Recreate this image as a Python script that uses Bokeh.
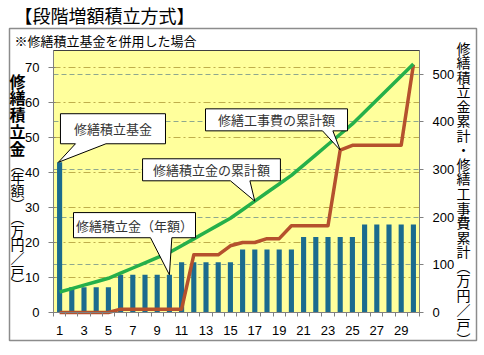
from bokeh.plotting import figure
from bokeh.models import Range1d, LinearAxis, FixedTicker, Grid
from bokeh.embed import file_html
from bokeh.resources import INLINE
from bokeh.core.properties import value

# ---------------- data ----------------
years = list(range(1, 31))
x_tick_values = list(range(1, 30, 2))
annual_reserve = [43.0, 7.2, 7.2, 7.2, 7.2,
                  10.8, 10.8, 10.8, 10.8, 10.8,
                  14.4, 14.4, 14.4, 14.4, 14.4,
                  18.0, 18.0, 18.0, 18.0, 18.0,
                  21.6, 21.6, 21.6, 21.6, 21.6,
                  25.2, 25.2, 25.2, 25.2, 25.2]
cum_reserve = [43.0, 50.2, 57.4, 64.6, 71.8, 82.6, 93.4, 104.2, 115.0, 125.8,
               140.2, 154.6, 169.0, 183.4, 197.8, 215.8, 233.8, 251.8, 269.8, 287.8,
               309.4, 331.0, 352.6, 374.2, 395.8, 421.0, 446.2, 471.4, 496.6, 521.8]
cum_repair = [0, 0, 0, 0, 0, 7, 7, 7, 7, 7,
              7, 121, 121, 121, 140, 147, 147, 155, 155, 182,
              182, 182, 182, 341, 351, 351, 351, 351, 351, 520]
left_ticks = [0, 10, 20, 30, 40, 50, 60, 70]
right_ticks = [0, 100, 200, 300, 400, 500]

title_text = "【段階増額積立方式】"
subtitle_text = "※修繕積立基金を併用した場合"
left_title_a = "修繕積立金"
left_title_b = "︵年額︶︵万円／戸︶"
right_title = "修繕積立金累計・修繕工事費累計︵万円／戸︶"

X_MIN, X_MAX = 0.5, 30.5
LEFT_MAX, RIGHT_MAX = 75, 550

BAR_C = "#1b6b8e"
GREEN = "#25b04a"
RED = "#b5512d"
JP = "Noto Sans CJK JP"
NUM = "Liberation Sans"

# ---------------- layout (pixels) ----------------
W, H = 484, 355
PL, PR, PT, PB = 53, 419, 50, 312          # plot-area edges on the canvas
ux = (PR - PL) / (X_MAX - X_MIN)
uy = (PB - PT) / LEFT_MAX
x_start = X_MIN - PL / ux
x_end = X_MAX + (W - PR) / ux
y_start = -(H - PB) / uy
y_end = LEFT_MAX + PT / uy
r2l = LEFT_MAX / RIGHT_MAX


def px2x(px):
    return x_start + px / ux


def py2y(py):
    return y_end - py / uy


p = figure(width=W, height=H, output_backend="svg", toolbar_location=None,
           x_range=Range1d(x_start, x_end), y_range=Range1d(y_start, y_end),
           min_border=0, min_border_left=0, min_border_right=0,
           min_border_top=0, min_border_bottom=0)
p.extra_y_ranges = {"right": Range1d(y_start / r2l, y_end / r2l)}
p.background_fill_color = "white"
p.border_fill_color = "white"
p.outline_line_color = None

# plot area (yellow) drawn beneath grid lines
bg = p.quad(left=[X_MIN], right=[X_MAX], bottom=[0], top=[LEFT_MAX],
            fill_color="#ffff9c", line_color="#404040", line_width=1)
bg.level = "image"

# axes (fixed in place on the plot-area edges)
xa = p.xaxis[0]
xa.fixed_location = 0
xa.bounds = (X_MIN, X_MAX)
xa.ticker = FixedTicker(ticks=x_tick_values, minor_ticks=[y - 0.5 for y in years] + [X_MAX])
xa.major_tick_out = 0
xa.major_tick_in = 0
xa.minor_tick_out = 4
xa.minor_tick_in = 0
xa.minor_tick_line_color = "#808080"
xa.axis_line_color = "#808080"
xa.major_label_standoff = 9
xa.major_label_text_font = NUM
xa.major_label_text_font_size = "13px"
xa.major_label_text_color = "black"

ya = p.yaxis[0]
ya.fixed_location = X_MIN
ya.bounds = (0, LEFT_MAX)
ya.ticker = FixedTicker(ticks=left_ticks)
ya.minor_tick_line_color = None
ya.major_tick_out = 5
ya.major_tick_in = 2
ya.major_tick_line_color = "#808080"
ya.axis_line_color = "#808080"
ya.major_label_standoff = 9
ya.major_label_text_font = NUM
ya.major_label_text_font_size = "13px"
ya.major_label_text_color = "black"

ra = LinearAxis(y_range_name="right", ticker=FixedTicker(ticks=right_ticks),
                fixed_location=X_MAX, bounds=(0, RIGHT_MAX))
ra.minor_tick_line_color = None
ra.major_tick_out = 4
ra.major_tick_in = 0
ra.major_tick_line_color = "#808080"
ra.axis_line_color = "#808080"
ra.major_label_standoff = 9
ra.major_label_text_font = NUM
ra.major_label_text_font_size = "13px"
ra.major_label_text_color = "black"
p.add_layout(ra, "right")

# grids
p.xgrid.visible = False
p.ygrid.ticker = FixedTicker(ticks=left_ticks[1:])
p.ygrid.bounds = (0, LEFT_MAX)
p.ygrid.cross_bounds = (X_MIN, X_MAX)
p.ygrid.grid_line_color = "#bfae4c"
p.ygrid.grid_line_dash = "7 3 2 3"
p.ygrid.grid_line_width = 1
rg = Grid(dimension=1, ticker=FixedTicker(ticks=right_ticks[1:]), y_range_name="right",
          bounds=(0, RIGHT_MAX), cross_bounds=(X_MIN, X_MAX),
          grid_line_color="#8ea88e", grid_line_dash="5 3", grid_line_width=1)
p.add_layout(rg)

# data marks
p.vbar(x=years, top=annual_reserve, width=0.42, fill_color=BAR_C, line_color=None)
p.line(years, cum_repair, y_range_name="right", line_color=RED, line_width=3.5, line_join="round")
p.line(years, cum_reserve, y_range_name="right", line_color=GREEN, line_width=3.5, line_join="round")


# callouts (box in left-axis units, tip anchored to data)
def callout(x0, x1, y0, y1, b0, b1, tip, text):
    tx, ty = tip
    xs = [x0, x1, x1, b1, tx, b0, x0]
    ys = [y1, y1, y0, y0, ty, y0, y0]
    p.patch(xs, ys, fill_color="white", line_color="black", line_width=1)
    p.text(x=[(x0 + x1) / 2], y=[(y0 + y1) / 2], text=[text], text_align="center",
           text_baseline="middle", text_font=value(JP), text_font_size="13px",
           text_color="#333333")


callout(1.07, 9.68, 48.3, 56.9, 2.3, 4.8, (years[0] - 0.1, annual_reserve[0]), "修繕積立基金")
callout(12.96, 24.6, 52.0, 58.3, 22.55, 23.4, (years[23], cum_repair[23] * r2l), "修繕工事費の累計額")
callout(7.8, 19.1, 37.7, 44.0, 15.0, 16.6, (years[16], cum_reserve[16] * r2l), "修繕積立金の累計額")
callout(2.14, 12.14, 21.4, 28.6, 8.45, 10.2, (years[9], annual_reserve[9]), "修繕積立金（年額）")

# chart-area frame
p.quad(left=[px2x(9)], right=[px2x(476)], top=[py2y(28)], bottom=[py2y(340)],
       fill_color=None, line_color="#8c8c8c", line_width=1.5)


def ptext(pxs, pys, texts, size, align="left", style="normal"):
    p.text(x=[px2x(v) for v in pxs], y=[py2y(v) for v in pys], text=texts,
           text_align=align, text_baseline="middle", text_font=value(JP),
           text_font_size=size, text_font_style=style, text_color="black")


ptext([14], [14], [title_text], "18px")
ptext([14], [40], [subtitle_text], "13px")
ptext([17] * len(left_title_a), [80 + i * 16.75 for i in range(len(left_title_a))],
      list(left_title_a), "16px", align="center", style="bold")
ptext([17] * len(left_title_b), [163 + i * 13.4 for i in range(len(left_title_b))],
      list(left_title_b), "14px", align="center")
ptext([463] * len(right_title), [47 + i * 14.55 for i in range(len(right_title))],
      list(right_title), "14px", align="center")

open("out.html", "w").write(file_html(p, INLINE))
